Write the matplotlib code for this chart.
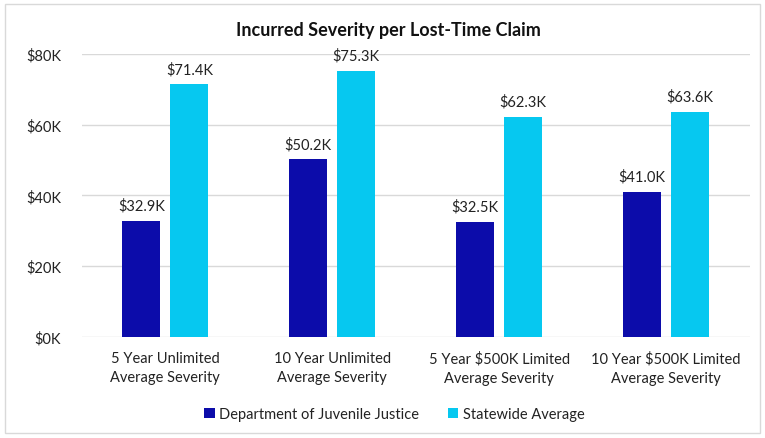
import matplotlib.pyplot as plt
import numpy as np
from matplotlib.patches import Rectangle

categories = ["5 Year Unlimited\nAverage Severity", "10 Year Unlimited\nAverage Severity",
              "5 Year $500K Limited\nAverage Severity", "10 Year $500K Limited\nAverage Severity"]
djj = [32.9, 50.2, 32.5, 41.0]
statewide = [71.4, 75.3, 62.3, 63.6]
series_names = ["Department of Juvenile Justice", "Statewide Average"]
yticks = [0, 20, 40, 60, 80]

plt.rcParams['font.family'] = ['Lato', 'DejaVu Sans']

fig = plt.figure(figsize=(7.65, 4.39), dpi=100)
ax = fig.add_axes([0.107, 0.230, 0.873, 0.645])

x = np.arange(len(categories))
w = 0.228
off = 0.144
b1 = ax.bar(x - off, djj, w, color='#0C0CAA', label=series_names[0], zorder=3)
b2 = ax.bar(x + off, statewide, w, color='#06C8F0', label=series_names[1], zorder=3)

for bars in (b1, b2):
    for r in bars:
        h = r.get_height()
        ax.text(r.get_x() + r.get_width() / 2, h + 2.3, f"${h:.1f}K",
                ha='center', va='bottom', fontsize=10.5, color='#222222')

ax.set_xlim(-0.5, 3.5)
ax.set_ylim(0, 80)
ax.set_yticks(yticks)
ax.set_yticklabels([f"${v}K" for v in yticks], fontsize=10.5, color='#222222')
ax.set_xticks(x)
ax.set_xticklabels(categories, fontsize=10.5, color='#222222', linespacing=1.5)
ax.tick_params(axis='both', length=0)
ax.tick_params(axis='y', pad=15)
ax.tick_params(axis='x', pad=10)
ax.grid(axis='y', color='#D9D9D9', linewidth=1, zorder=0)
for s in ax.spines.values():
    s.set_visible(False)

fig.text(0.508, 0.930, "Incurred Severity per Lost-Time Claim", ha='center', va='center',
         fontsize=13, fontweight='bold', color='#111111')

ax.legend(loc='center', bbox_to_anchor=(0.468, -0.272), ncol=2, frameon=False,
          fontsize=10.5, handlelength=0.7, handleheight=0.7, columnspacing=2.0,
          handletextpad=0.3, labelcolor='#222222')

fig.patches.append(Rectangle((0.007, 0.012), 0.987, 0.976, transform=fig.transFigure,
                             fill=False, edgecolor='#D9D9D9', linewidth=1))

fig.savefig("out.png", dpi=100)
